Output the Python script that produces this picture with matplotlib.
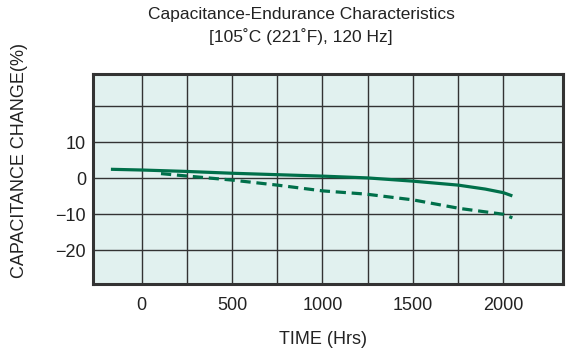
import numpy as np
import matplotlib
matplotlib.use('Agg')
import matplotlib.pyplot as plt

# ---------- data ----------
hrsSolid = [-170, 0, 250, 500, 750, 1000, 1250, 1500, 1750, 1900, 2000, 2050]
capSolid = [2.5, 2.3, 1.9, 1.4, 1.0, 0.6, 0.1, -0.8, -1.9, -3.0, -4.0, -4.9]

hrsDash = [107, 235, 500, 750, 1000, 1240, 1500, 1760, 2000, 2050]
capDash = [1.3, 0.7, -0.5, -1.9, -3.5, -4.4, -6.0, -8.4, -10.0, -11.0]

xTicks = [0, 500, 1000, 1500, 2000]
xGrid = [250, 750, 1250, 1750]
yTicks = [10, 0, -10, -20]
yGrid = [20]

# ---------- style ----------
plt.rcParams['font.family'] = ['Liberation Sans', 'DejaVu Sans']
lineCol = '#00704a'
bgCol = '#e1f1ef'
gridCol = '#333333'

fig = plt.figure(figsize=(5.66, 3.54), dpi=100)
ax = fig.add_axes([93 / 566, 1 - 284 / 354, (563 - 93) / 566, (284 - 74) / 354])
ax.set_facecolor(bgCol)

ax.plot(hrsSolid, capSolid, color=lineCol, lw=2.3, solid_capstyle='butt', zorder=3)
ax.plot(hrsDash, capDash, color=lineCol, lw=2.3, dashes=(3.2, 1.8), zorder=3)

ax.set_xlim(-269, 2330)
ax.set_ylim(-29.4, 29.0)
ax.set_xticks(xTicks)
ax.set_xticks(xGrid, minor=True)
ax.set_yticks(yTicks)
ax.set_yticks(yGrid, minor=True)
ax.grid(True, which='both', color=gridCol, lw=1.0)
ax.set_axisbelow(True)
ax.tick_params(which='both', length=0, labelsize=13, colors='#222222')
ax.tick_params(axis='x', pad=9)
ax.tick_params(axis='y', pad=5)
for s in ax.spines.values():
    s.set_linewidth(2.2)
    s.set_color('#333333')

fig.text(301 / 566, 1 - 14 / 354, 'Capacitance-Endurance Characteristics',
         ha='center', va='center', fontsize=12.5, color='#222222')
fig.text(301 / 566, 1 - 37 / 354, '[105\u02daC (221\u02daF), 120 Hz]',
         ha='center', va='center', fontsize=12.5, color='#222222')
fig.text(323 / 566, 1 - 339 / 354, 'TIME (Hrs)', ha='center', va='center',
         fontsize=13, color='#222222')
fig.text(20 / 566, 1 - 160 / 354, 'CAPACITANCE CHANGE(%)', ha='center',
         va='center', rotation=90, fontsize=13, color='#222222')

fig.savefig('out.png', dpi=100)
